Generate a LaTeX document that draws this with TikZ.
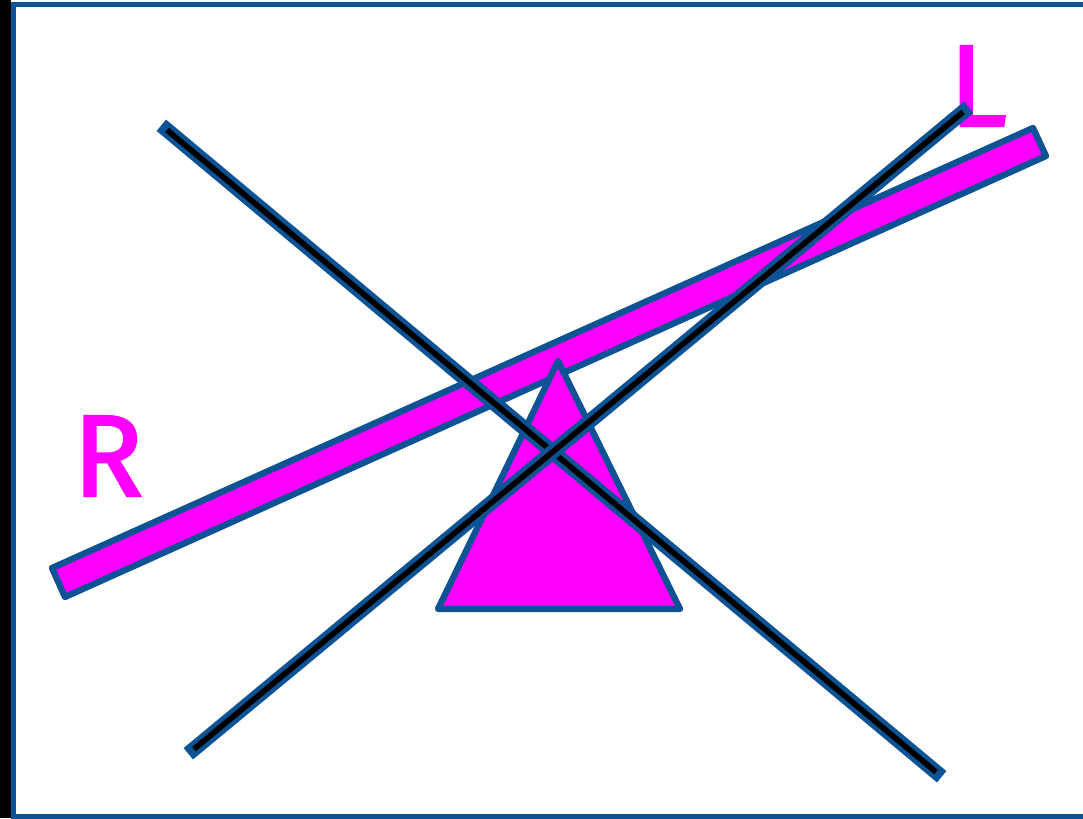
\documentclass[tikz,border=0pt]{standalone}
\usepackage{fontspec}
\newfontfamily\handfont{Fira Sans}[FakeBold=2]
\definecolor{cmagenta}{HTML}{FF00FF}
\definecolor{cblue}{HTML}{0B5394}
\tikzset{
  plate/.style={fill=cmagenta, draw=cblue, line width=1.8pt, line join=round},
  beam/.style={draw=cblue, line width=4.2pt, line cap=rect},
  core/.style={draw=black, line width=1.6pt},
  side/.style={text=cmagenta, font=\handfont\fontsize{33}{33}\selectfont, inner sep=0pt, anchor=base},
  frame/.style={draw=cblue, line width=1.42pt},
}

\begin{document}
\begin{tikzpicture}[x=0.01cm, y=-0.01cm]
  \useasboundingbox (0,0) rectangle (1083,818);
  \clip (0,0) rectangle (1083,818);
  % page frame, cut off on the right
  \fill[black] (0,0) rectangle (11,818);
  \draw[frame] (13.5,4.5) rectangle (1100,816);
  % the two side labels
  \node[side] (right) at (108,496) {R};
  \node[side] (left) at (978,126) {L};
  % the plank and its pivot
  \draw[plate] (52,568) -- (65,597) -- (1046,156) -- (1033,128) -- cycle;
  \draw[plate] (558,361) -- (438,609) -- (680,609) -- cycle;
  % the crossed lines
  \coordinate (nw) at (167,130);
  \coordinate (se) at (936,772);
  \coordinate (sw) at (194,749);
  \coordinate (ne) at (963,112);
  \foreach \a/\b in {nw/se, sw/ne} {
    \draw[beam] (\a) -- (\b);
    \draw[core] (\a) -- (\b);
  }
\end{tikzpicture}
\end{document}
